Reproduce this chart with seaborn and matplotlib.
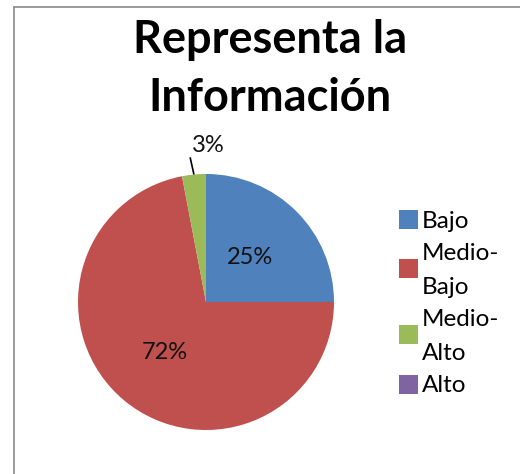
import matplotlib
matplotlib.use("Agg")
import matplotlib.pyplot as plt
import seaborn as sns
import numpy as np
from matplotlib.patches import Rectangle
from matplotlib.lines import Line2D

categories = ["Bajo", "Medio-Bajo", "Medio-Alto", "Alto"]
legend_labels = ["Bajo", "Medio-\nBajo", "Medio-\nAlto", "Alto"]
values = [25, 72, 3, 0]
colors = ["#4F81BD", "#C0504D", "#9BBB59", "#8064A2"]
title = "Representa la\nInformación"

sns.set_theme(style="white")
plt.rcParams['font.family'] = ['Lato', 'DejaVu Sans']

W, H = 520, 474
fig = plt.figure(figsize=(W/100, H/100), dpi=100)
fig.patch.set_facecolor("white")

def fx(px):
    return px / W

def fy(py):
    return 1 - py / H

# chart border (partially visible)
fig.add_artist(Line2D([fx(14), fx(14)], [0, fy(7)], color="#8a8a8a", lw=1.2, transform=fig.transFigure))
fig.add_artist(Line2D([fx(14), 1], [fy(7), fy(7)], color="#8a8a8a", lw=1.2, transform=fig.transFigure))

ax = fig.add_axes([fx(78), fy(430), 256/W, 256/H])
wedges, _ = ax.pie(values, colors=colors, startangle=90, counterclock=False,
                   radius=1.0, wedgeprops=dict(linewidth=0))
ax.set_xlim(-1, 1)
ax.set_ylim(-1, 1)
ax.set_aspect("equal")
ax.axis("off")

total = sum(values)
label_r = {0: 0.49, 1: 0.51}
for i, w in enumerate(wedges):
    if values[i] == 0:
        continue
    mid = np.deg2rad((w.theta1 + w.theta2) / 2)
    pct = f"{round(values[i] / total * 100)}%"
    if i in label_r:
        r = label_r[i]
        ax.text(r*np.cos(mid), r*np.sin(mid), pct, ha="center", va="center",
                fontsize=17, color="#111111")
    else:
        x0, y0 = np.cos(mid), np.sin(mid)
        ax.plot([x0, x0 - 0.03], [y0, y0 + 0.135], color="black", lw=1.2,
                clip_on=False, solid_capstyle="butt")
        ax.text(x0 + 0.11, y0 + 0.23, pct, ha="center", va="center",
                fontsize=17, color="#111111")

fig.text(fx(270), fy(69), title, ha="center", va="center",
         fontsize=32.5, fontweight="bold", linespacing=1.45, color="black")

# legend built line by line
pitch = 33.0
line_y = 219.0
sq = 19
for lab, c in zip(legend_labels, colors):
    lines = lab.split("\n")
    ys = [line_y + k * pitch for k in range(len(lines))]
    center = (ys[0] + ys[-1]) / 2
    fig.add_artist(Rectangle((fx(399), fy(center + sq/2)), sq/W, sq/H,
                             transform=fig.transFigure, facecolor=c, edgecolor="none"))
    for yy, ln in zip(ys, lines):
        fig.text(fx(422), fy(yy), ln, ha="left", va="center_baseline",
                 fontsize=17.5, color="black")
    line_y = ys[-1] + pitch

fig.savefig("out.png", dpi=100, facecolor="white")
